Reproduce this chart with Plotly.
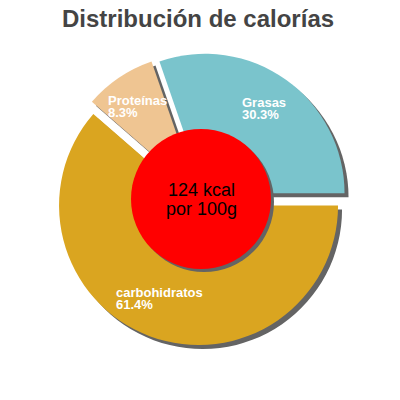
import math
import plotly.graph_objects as go

# ---- data ----
labels = ["Grasas", "Proteínas", "carbohidratos"]
values = [30.3, 8.3, 61.4]
percent_text = ["30.3%", "8.3%", "61.4%"]
center_lines = ["124 kcal", "por 100g"]
title_text = "Distribución de calorías"

# ---- style / geometry ----
colors = ["#7ac4cc", "#efc592", "#daa520"]
shadow_color = "rgb(100,100,100)"
W = H = 400
OFF = 8                    # page body margin compensation
CX, CY = 201 - OFF, 199 - OFF   # pie centre in figure px
R = 139.5                  # pie radius in px
PULL = 0.05
HOLE_R = 70                # red disc radius px
SH = 4                     # shadow offset px
START = 90                 # first slice starts at 3 o'clock, goes counterclockwise

total = sum(values)
# plotly: with counterclockwise direction, the first slice spans [rotation, rotation + v0]
ROT = START - values[0] / total * 360


def dom(cx, cy, half):
    return dict(x=[(cx - half) / W, (cx + half) / W],
                y=[1 - (cy + half) / H, 1 - (cy - half) / H])


half_main = R * (1 + PULL)
pie_common = dict(values=values, labels=labels, sort=False,
                  direction="counterclockwise", rotation=ROT,
                  pull=[PULL] * len(values), textinfo="none",
                  hoverinfo="skip", showlegend=False)

fig = go.Figure()
# shadow
fig.add_trace(go.Pie(**pie_common, domain=dom(CX + SH, CY + SH, half_main),
                     marker=dict(colors=[shadow_color] * len(values), line=dict(width=0))))
# main pie
fig.add_trace(go.Pie(**pie_common, domain=dom(CX, CY, half_main),
                     marker=dict(colors=colors, line=dict(width=0))))
# red centre disc shadow + disc
fig.add_trace(go.Pie(values=[1], labels=[""], sort=False, textinfo="none", hoverinfo="skip",
                     showlegend=False, domain=dom(CX + SH - 1, CY + SH - 1, HOLE_R),
                     marker=dict(colors=[shadow_color], line=dict(width=0))))
fig.add_trace(go.Pie(values=[1], labels=[""], sort=False, textinfo="none", hoverinfo="skip",
                     showlegend=False, domain=dom(CX, CY, HOLE_R),
                     marker=dict(colors=["#ff0000"], line=dict(width=0))))

annotations = []
# slice labels, positioned from slice mid-angles
cum = 0.0
lab_font = dict(family="Liberation Sans, Arial, sans-serif", size=13, color="white")
for lab, v, pt in zip(labels, values, percent_text):
    mid = START - (cum + v / 2) / total * 360
    cum += v
    a = math.radians(mid)
    rr = R * PULL + 0.73 * R
    tx = CX + rr * math.sin(a)
    ty = CY - rr * math.cos(a)
    left = tx - len(lab) * 7.0 / 2 - 3
    annotations.append(dict(x=left / W, y=1 - (ty - 8) / H, xref="paper", yref="paper",
                            text="<b>%s</b>" % lab, showarrow=False, xanchor="left",
                            yanchor="middle", font=lab_font))
    annotations.append(dict(x=left / W, y=1 - (ty + 4) / H, xref="paper", yref="paper",
                            text="<b>%s</b>" % pt, showarrow=False, xanchor="left",
                            yanchor="middle", font=lab_font))

# centre text
for i, line in enumerate(center_lines):
    annotations.append(dict(x=CX / W, y=1 - (CY - 9 + 19 * i) / H, xref="paper", yref="paper",
                            text=line, showarrow=False, xanchor="center", yanchor="middle",
                            font=dict(family="Liberation Sans, Arial, sans-serif", size=18,
                                      color="black")))

# title
annotations.append(dict(x=(198 - OFF) / W, y=1 - (18 - OFF) / H, xref="paper", yref="paper",
                        text="<b>%s</b>" % title_text, showarrow=False, xanchor="center",
                        yanchor="middle",
                        font=dict(family="Liberation Sans, Arial, sans-serif", size=24,
                                  color="#444444")))

fig.update_layout(width=W, height=H, margin=dict(l=0, r=0, t=0, b=0),
                  paper_bgcolor="white", plot_bgcolor="white",
                  annotations=annotations, showlegend=False)

fig.write_html("out.html")
